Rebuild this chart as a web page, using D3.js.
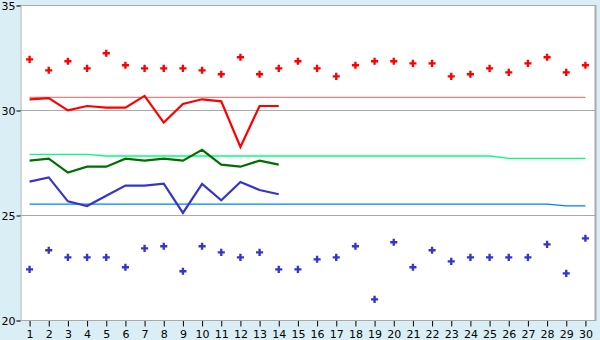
<!DOCTYPE html>
<html>
<head>
<meta charset="utf-8">
<script src="https://cdn.jsdelivr.net/npm/d3@7"></script>
<style>
	html, body { margin: 0; padding: 0; background: #daeff5; }
	svg { display: block; }
	text { font-family: "DejaVu Sans", Verdana, sans-serif; font-size: 11px; fill: #000; }
</style>
</head>
<body>
<svg id="chart" width="600" height="340"></svg>
<script>
/* daily readings chart */

const days = d3.range(1, 31);
const yTicks = [20, 25, 30, 35];

// scattered upper / lower readings
const upperPts = [32.41, 31.89, 32.32, 31.98, 32.70, 32.13, 31.98, 31.98, 31.98, 31.89,
	31.70, 32.51, 31.70, 31.98, 32.32, 31.98, 31.60, 32.13, 32.32, 32.32,
	32.22, 32.22, 31.60, 31.70, 31.98, 31.79, 32.22, 32.51, 31.79, 32.13];
const lowerPts = [22.41, 23.32, 22.98, 22.98, 22.98, 22.51, 23.41, 23.51, 22.32, 23.51,
	23.22, 22.98, 23.22, 22.41, 22.41, 22.89, 22.98, 23.51, 20.98, 23.70,
	22.51, 23.32, 22.79, 22.98, 22.98, 22.98, 22.98, 23.60, 22.22, 23.89];

// lines for the first 14 days
const redLine = [30.51, 30.57, 29.98, 30.19, 30.11, 30.11, 30.67, 29.40, 30.29, 30.51,
	30.41, 28.24, 30.19, 30.19];
const greenLine = [27.59, 27.68, 27.02, 27.30, 27.30, 27.68, 27.59, 27.68, 27.59, 28.10,
	27.40, 27.30, 27.59, 27.40];
const blueLine = [26.59, 26.79, 25.65, 25.43, 25.92, 26.40, 26.40, 26.49, 25.10, 26.48,
	25.70, 26.57, 26.19, 25.99];

// thin reference levels, one per day
const redRef = days.map(() => 30.60);
const greenRef = [27.89, 27.89, 27.89, 27.89, 27.81, 27.81, 27.81, 27.81, 27.81, 27.81,
	27.81, 27.81, 27.81, 27.81, 27.81, 27.81, 27.81, 27.81, 27.81, 27.81,
	27.81, 27.81, 27.81, 27.81, 27.81, 27.70, 27.70, 27.70, 27.70, 27.70];
const blueRef = [25.52, 25.52, 25.52, 25.52, 25.52, 25.52, 25.52, 25.52, 25.52, 25.52,
	25.52, 25.52, 25.52, 25.52, 25.52, 25.52, 25.52, 25.52, 25.52, 25.52,
	25.52, 25.52, 25.52, 25.52, 25.52, 25.52, 25.52, 25.52, 25.43, 25.43];

const m = {left: 20, top: 5, right: 595, bottom: 320};
const svg = d3.select("#chart");

const x = d3.scaleBand().domain(days).range([m.left, m.right]);
const cx = d => x(d) + x.bandwidth() / 2;
const y = d3.scaleLinear().domain([20, 35]).range([m.bottom, m.top]);

svg.append("rect")
	.attr("x", m.left).attr("y", m.top)
	.attr("width", m.right - m.left).attr("height", m.bottom - m.top)
	.attr("fill", "#fff");

// grid
svg.append("g")
	.selectAll("line")
	.data(yTicks.slice(1))
	.join("line")
	.attr("x1", m.left).attr("x2", m.right)
	.attr("y1", d => y(d) + 0.5).attr("y2", d => y(d) + 0.5)
	.attr("stroke", "#aaa");
svg.append("line")
	.attr("x1", m.right + 0.5).attr("x2", m.right + 0.5)
	.attr("y1", m.top).attr("y2", m.bottom)
	.attr("stroke", "#aaa").attr("stroke-width", 2);

// axes
const yAxis = svg.append("g")
	.attr("transform", `translate(${m.left + 0.5},0.5)`)
	.call(d3.axisLeft(y).tickValues(yTicks).tickSize(4).tickPadding(1));
const xAxis = svg.append("g")
	.attr("transform", `translate(0.5,${m.bottom + 0.5})`)
	.call(d3.axisBottom(x).tickSize(6).tickPadding(4));
[yAxis, xAxis].forEach(a => {
	a.select(".domain").attr("stroke", "#aaa");
	a.selectAll(".tick line").attr("stroke", "#000");
	a.selectAll("text").attr("font-family", null).attr("font-size", null);
});
xAxis.select(".domain").remove();
xAxis.append("line").attr("x1", m.left).attr("x2", m.right + 1).attr("stroke", "#aaa");

const line = d3.line().x((d, i) => cx(days[i])).y(d => y(d));

const refs = [[redRef, "#f08080"], [greenRef, "#00ff80"], [blueRef, "#0080ff"]];
refs.forEach(([data, color]) => {
	svg.append("path")
		.attr("d", line(data))
		.attr("fill", "none")
		.attr("stroke", color)
		.attr("stroke-width", 1.3);
});

const lines = [[redLine, "#ff0000"], [greenLine, "#006f00"], [blueLine, "#3535cc"]];
lines.forEach(([data, color]) => {
	svg.append("path")
		.attr("d", line(data))
		.attr("fill", "none")
		.attr("stroke", color)
		.attr("stroke-width", 2.2);
});

const cross = d3.symbol().type(d3.symbolCross).size(28);
[[upperPts, "#ff0000"], [lowerPts, "#3535cc"]].forEach(([data, color]) => {
	svg.append("g")
		.selectAll("path")
		.data(data)
		.join("path")
		.attr("d", cross)
		.attr("transform", (d, i) => `translate(${cx(days[i])},${y(d)})`)
		.attr("fill", color);
});
</script>
</body>
</html>
